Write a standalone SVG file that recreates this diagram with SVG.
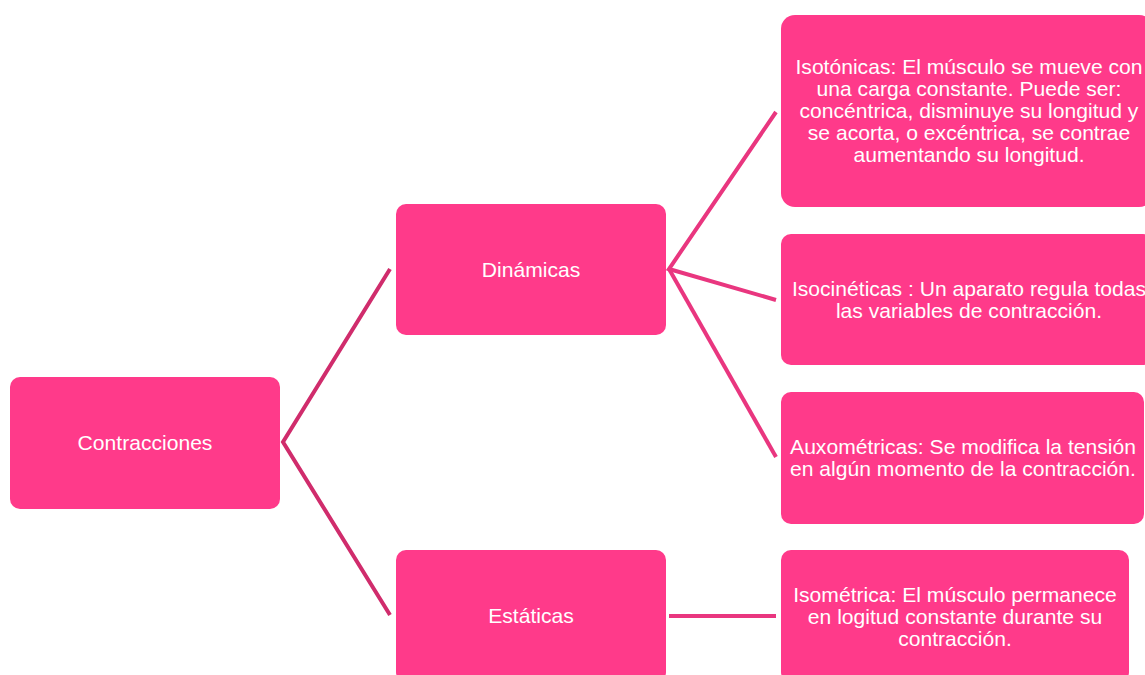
<svg xmlns="http://www.w3.org/2000/svg" width="1145" height="675" viewBox="0 0 1145 675">
<style>
.n{fill:#FF3A8A;}
.t{fill:#fff;font-family:"Liberation Sans",Arial,sans-serif;font-size:21.1px;text-anchor:middle;}
.c1{stroke:#D02C6C;stroke-width:4;fill:none;}
.c2{stroke:#E9367F;stroke-width:4;fill:none;}
</style>
<rect width="1145" height="675" fill="#fff"/>
<g id="connectors">
<path class="c1" d="M390,269 L283,442 L390,615"/>
<path class="c2" d="M776,112 L669,269 L776,300"/>
<path class="c2" d="M669,269 L776,457"/>
<path class="c2" d="M669,616 L776,616"/>
</g>
<g id="contracciones">
<rect class="n" x="10" y="377" width="270" height="132" rx="10"/>
<text class="t" x="145" y="450">Contracciones</text>
</g>
<g id="dinamicas">
<rect class="n" x="396" y="204" width="270" height="131" rx="10"/>
<text class="t" x="531" y="277">Dinámicas</text>
</g>
<g id="estaticas">
<rect class="n" x="396" y="550" width="270" height="132" rx="10"/>
<text class="t" x="531" y="623">Estáticas</text>
</g>
<g id="isotonicas">
<rect class="n" x="781" y="15" width="372" height="192" rx="14"/>
<text class="t"><tspan x="969" y="74">Isotónicas: El músculo se mueve con</tspan><tspan x="969" y="96">una carga constante. Puede ser:</tspan><tspan x="969" y="118">concéntrica, disminuye su longitud y</tspan><tspan x="969" y="140">se acorta, o excéntrica, se contrae</tspan><tspan x="969" y="162">aumentando su longitud.</tspan></text>
</g>
<g id="isocineticas">
<rect class="n" x="781" y="234" width="372" height="131" rx="10"/>
<text class="t"><tspan x="969" y="296">Isocinéticas : Un aparato regula todas</tspan><tspan x="969" y="318">las variables de contracción.</tspan></text>
</g>
<g id="auxometricas">
<rect class="n" x="781" y="392" width="363" height="132" rx="10"/>
<text class="t"><tspan x="963" y="454">Auxométricas: Se modifica la tensión</tspan><tspan x="963" y="476">en algún momento de la contracción.</tspan></text>
</g>
<g id="isometrica">
<rect class="n" x="781" y="550" width="348" height="132" rx="10"/>
<text class="t"><tspan x="955" y="602">Isométrica: El músculo permanece</tspan><tspan x="955" y="624">en logitud constante durante su</tspan><tspan x="955" y="646">contracción.</tspan></text>
</g>
</svg>
